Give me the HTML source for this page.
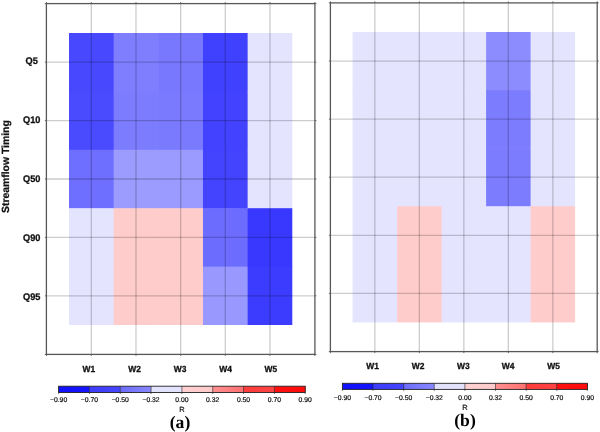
<!DOCTYPE html>
<html><head><meta charset="utf-8"><style>
html,body{margin:0;padding:0;background:#fff;width:600px;height:432px;overflow:hidden}
svg{display:block}
svg{will-change:transform}
text{text-rendering:geometricPrecision}
.g{stroke:#000;stroke-opacity:0.2;stroke-width:1.3}
.t{stroke:#585858;stroke-width:0.9}
.f{fill:none;stroke:#585858;stroke-width:1.3}
.xl{font-family:"Liberation Sans",sans-serif;font-weight:bold;font-size:9.6px;fill:#111;stroke:#111;stroke-width:0.3px}
.wl{font-family:"Liberation Sans",sans-serif;font-weight:bold;font-size:8.9px;fill:#111;stroke:#111;stroke-width:0.3px}
.yt{font-family:"Liberation Sans",sans-serif;font-weight:bold;font-size:10.4px;fill:#111;stroke:#111;stroke-width:0.25px}
.cb{font-family:"Liberation Sans",sans-serif;font-size:6.8px;fill:#111;stroke:#111;stroke-width:0.2px}
.cbl{stroke:#222;stroke-width:0.6}
.cbf{fill:none;stroke:#222;stroke-width:0.9}
.tag{font-family:"Liberation Serif",serif;font-weight:bold;font-size:17.6px;fill:#000}
.rl{font-family:"Liberation Sans",sans-serif;font-size:7.5px;fill:#111;stroke:#111;stroke-width:0.2px}
</style></head><body>
<svg width="600" height="432" viewBox="0 0 600 432">
<rect x="69.00" y="33.00" width="45.26" height="59.00" fill="#4848ff"/>
<rect x="69.00" y="91.40" width="45.26" height="59.00" fill="#4a4aff"/>
<rect x="69.00" y="149.80" width="45.26" height="59.00" fill="#6e6eff"/>
<rect x="69.00" y="208.20" width="45.26" height="59.00" fill="#e4e4ff"/>
<rect x="69.00" y="266.60" width="45.26" height="58.40" fill="#e4e4ff"/>
<rect x="113.66" y="33.00" width="45.26" height="59.00" fill="#7e7eff"/>
<rect x="113.66" y="91.40" width="45.26" height="59.00" fill="#7c7cff"/>
<rect x="113.66" y="149.80" width="45.26" height="59.00" fill="#9c9cff"/>
<rect x="113.66" y="208.20" width="45.26" height="59.00" fill="#ffcccc"/>
<rect x="113.66" y="266.60" width="45.26" height="58.40" fill="#ffcccc"/>
<rect x="158.32" y="33.00" width="45.26" height="59.00" fill="#7878ff"/>
<rect x="158.32" y="91.40" width="45.26" height="59.00" fill="#7a7aff"/>
<rect x="158.32" y="149.80" width="45.26" height="59.00" fill="#9a9aff"/>
<rect x="158.32" y="208.20" width="45.26" height="59.00" fill="#ffcccc"/>
<rect x="158.32" y="266.60" width="45.26" height="58.40" fill="#ffcccc"/>
<rect x="202.98" y="33.00" width="45.26" height="59.00" fill="#4040ff"/>
<rect x="202.98" y="91.40" width="45.26" height="59.00" fill="#4242ff"/>
<rect x="202.98" y="149.80" width="45.26" height="59.00" fill="#4444ff"/>
<rect x="202.98" y="208.20" width="45.26" height="59.00" fill="#6c6cff"/>
<rect x="202.98" y="266.60" width="45.26" height="58.40" fill="#9898ff"/>
<rect x="247.64" y="33.00" width="44.66" height="59.00" fill="#e4e4ff"/>
<rect x="247.64" y="91.40" width="44.66" height="59.00" fill="#e4e4ff"/>
<rect x="247.64" y="149.80" width="44.66" height="59.00" fill="#e4e4ff"/>
<rect x="247.64" y="208.20" width="44.66" height="59.00" fill="#3838ff"/>
<rect x="247.64" y="266.60" width="44.66" height="58.40" fill="#3c3cff"/>
<line x1="91.33" y1="3.60" x2="91.33" y2="354.40" class="g"/>
<line x1="135.99" y1="3.60" x2="135.99" y2="354.40" class="g"/>
<line x1="180.65" y1="3.60" x2="180.65" y2="354.40" class="g"/>
<line x1="225.31" y1="3.60" x2="225.31" y2="354.40" class="g"/>
<line x1="269.97" y1="3.60" x2="269.97" y2="354.40" class="g"/>
<line x1="46.40" y1="62.20" x2="314.90" y2="62.20" class="g"/>
<line x1="46.40" y1="120.60" x2="314.90" y2="120.60" class="g"/>
<line x1="46.40" y1="179.00" x2="314.90" y2="179.00" class="g"/>
<line x1="46.40" y1="237.40" x2="314.90" y2="237.40" class="g"/>
<line x1="46.40" y1="295.80" x2="314.90" y2="295.80" class="g"/>
<rect x="46.40" y="3.60" width="268.50" height="350.80" class="f"/>
<line x1="91.33" y1="354.40" x2="91.33" y2="355.90" class="t"/>
<line x1="91.33" y1="3.60" x2="91.33" y2="2.10" class="t"/>
<line x1="135.99" y1="354.40" x2="135.99" y2="355.90" class="t"/>
<line x1="135.99" y1="3.60" x2="135.99" y2="2.10" class="t"/>
<line x1="180.65" y1="354.40" x2="180.65" y2="355.90" class="t"/>
<line x1="180.65" y1="3.60" x2="180.65" y2="2.10" class="t"/>
<line x1="225.31" y1="354.40" x2="225.31" y2="355.90" class="t"/>
<line x1="225.31" y1="3.60" x2="225.31" y2="2.10" class="t"/>
<line x1="269.97" y1="354.40" x2="269.97" y2="355.90" class="t"/>
<line x1="269.97" y1="3.60" x2="269.97" y2="2.10" class="t"/>
<line x1="46.40" y1="62.20" x2="44.90" y2="62.20" class="t"/>
<line x1="314.90" y1="62.20" x2="316.40" y2="62.20" class="t"/>
<line x1="46.40" y1="120.60" x2="44.90" y2="120.60" class="t"/>
<line x1="314.90" y1="120.60" x2="316.40" y2="120.60" class="t"/>
<line x1="46.40" y1="179.00" x2="44.90" y2="179.00" class="t"/>
<line x1="314.90" y1="179.00" x2="316.40" y2="179.00" class="t"/>
<line x1="46.40" y1="237.40" x2="44.90" y2="237.40" class="t"/>
<line x1="314.90" y1="237.40" x2="316.40" y2="237.40" class="t"/>
<line x1="46.40" y1="295.80" x2="44.90" y2="295.80" class="t"/>
<line x1="314.90" y1="295.80" x2="316.40" y2="295.80" class="t"/>
<line x1="46.40" y1="3.60" x2="44.80" y2="3.60" class="t"/>
<line x1="46.40" y1="3.60" x2="46.40" y2="2.00" class="t"/>
<line x1="314.90" y1="3.60" x2="316.50" y2="3.60" class="t"/>
<line x1="314.90" y1="3.60" x2="314.90" y2="2.00" class="t"/>
<line x1="46.40" y1="354.40" x2="44.80" y2="354.40" class="t"/>
<line x1="46.40" y1="354.40" x2="46.40" y2="356.00" class="t"/>
<line x1="314.90" y1="354.40" x2="316.50" y2="354.40" class="t"/>
<line x1="314.90" y1="354.40" x2="314.90" y2="356.00" class="t"/>
<text transform="translate(88.80,371.60) scale(0.95,1)" class="wl" text-anchor="middle">W1</text>
<text transform="translate(134.50,371.60) scale(0.95,1)" class="wl" text-anchor="middle">W2</text>
<text transform="translate(180.00,371.60) scale(0.95,1)" class="wl" text-anchor="middle">W3</text>
<text transform="translate(225.50,371.60) scale(0.95,1)" class="wl" text-anchor="middle">W4</text>
<text transform="translate(270.75,371.60) scale(0.95,1)" class="wl" text-anchor="middle">W5</text>
<text transform="translate(31.70,64.30) scale(0.96,1)" class="xl" text-anchor="middle">Q5</text>
<text transform="translate(31.70,123.15) scale(0.96,1)" class="xl" text-anchor="middle">Q10</text>
<text transform="translate(31.70,181.90) scale(0.96,1)" class="xl" text-anchor="middle">Q50</text>
<text transform="translate(31.70,241.05) scale(0.96,1)" class="xl" text-anchor="middle">Q90</text>
<text transform="translate(31.70,299.75) scale(0.96,1)" class="xl" text-anchor="middle">Q95</text>
<rect x="352.60" y="32.00" width="45.10" height="58.68" fill="#e4e4ff"/>
<rect x="352.60" y="90.08" width="45.10" height="58.68" fill="#e4e4ff"/>
<rect x="352.60" y="148.16" width="45.10" height="58.68" fill="#e4e4ff"/>
<rect x="352.60" y="206.24" width="45.10" height="58.68" fill="#e4e4ff"/>
<rect x="352.60" y="264.32" width="45.10" height="58.08" fill="#e4e4ff"/>
<rect x="397.10" y="32.00" width="45.10" height="58.68" fill="#e4e4ff"/>
<rect x="397.10" y="90.08" width="45.10" height="58.68" fill="#e4e4ff"/>
<rect x="397.10" y="148.16" width="45.10" height="58.68" fill="#e4e4ff"/>
<rect x="397.10" y="206.24" width="45.10" height="58.68" fill="#ffcccc"/>
<rect x="397.10" y="264.32" width="45.10" height="58.08" fill="#ffcccc"/>
<rect x="441.60" y="32.00" width="45.10" height="58.68" fill="#e4e4ff"/>
<rect x="441.60" y="90.08" width="45.10" height="58.68" fill="#e4e4ff"/>
<rect x="441.60" y="148.16" width="45.10" height="58.68" fill="#e4e4ff"/>
<rect x="441.60" y="206.24" width="45.10" height="58.68" fill="#e4e4ff"/>
<rect x="441.60" y="264.32" width="45.10" height="58.08" fill="#e4e4ff"/>
<rect x="486.10" y="32.00" width="45.10" height="58.68" fill="#8c8cff"/>
<rect x="486.10" y="90.08" width="45.10" height="58.68" fill="#7c7cff"/>
<rect x="486.10" y="148.16" width="45.10" height="58.68" fill="#7c7cff"/>
<rect x="486.10" y="206.24" width="45.10" height="58.68" fill="#e4e4ff"/>
<rect x="486.10" y="264.32" width="45.10" height="58.08" fill="#e4e4ff"/>
<rect x="530.60" y="32.00" width="44.50" height="58.68" fill="#e4e4ff"/>
<rect x="530.60" y="90.08" width="44.50" height="58.68" fill="#e4e4ff"/>
<rect x="530.60" y="148.16" width="44.50" height="58.68" fill="#e4e4ff"/>
<rect x="530.60" y="206.24" width="44.50" height="58.68" fill="#ffcccc"/>
<rect x="530.60" y="264.32" width="44.50" height="58.08" fill="#ffcccc"/>
<line x1="374.85" y1="2.90" x2="374.85" y2="351.60" class="g"/>
<line x1="419.35" y1="2.90" x2="419.35" y2="351.60" class="g"/>
<line x1="463.85" y1="2.90" x2="463.85" y2="351.60" class="g"/>
<line x1="508.35" y1="2.90" x2="508.35" y2="351.60" class="g"/>
<line x1="552.85" y1="2.90" x2="552.85" y2="351.60" class="g"/>
<line x1="330.40" y1="61.04" x2="597.20" y2="61.04" class="g"/>
<line x1="330.40" y1="119.12" x2="597.20" y2="119.12" class="g"/>
<line x1="330.40" y1="177.20" x2="597.20" y2="177.20" class="g"/>
<line x1="330.40" y1="235.28" x2="597.20" y2="235.28" class="g"/>
<line x1="330.40" y1="293.36" x2="597.20" y2="293.36" class="g"/>
<rect x="330.40" y="2.90" width="266.80" height="348.70" class="f"/>
<line x1="374.85" y1="351.60" x2="374.85" y2="353.10" class="t"/>
<line x1="374.85" y1="2.90" x2="374.85" y2="1.40" class="t"/>
<line x1="419.35" y1="351.60" x2="419.35" y2="353.10" class="t"/>
<line x1="419.35" y1="2.90" x2="419.35" y2="1.40" class="t"/>
<line x1="463.85" y1="351.60" x2="463.85" y2="353.10" class="t"/>
<line x1="463.85" y1="2.90" x2="463.85" y2="1.40" class="t"/>
<line x1="508.35" y1="351.60" x2="508.35" y2="353.10" class="t"/>
<line x1="508.35" y1="2.90" x2="508.35" y2="1.40" class="t"/>
<line x1="552.85" y1="351.60" x2="552.85" y2="353.10" class="t"/>
<line x1="552.85" y1="2.90" x2="552.85" y2="1.40" class="t"/>
<line x1="330.40" y1="61.04" x2="328.90" y2="61.04" class="t"/>
<line x1="597.20" y1="61.04" x2="598.70" y2="61.04" class="t"/>
<line x1="330.40" y1="119.12" x2="328.90" y2="119.12" class="t"/>
<line x1="597.20" y1="119.12" x2="598.70" y2="119.12" class="t"/>
<line x1="330.40" y1="177.20" x2="328.90" y2="177.20" class="t"/>
<line x1="597.20" y1="177.20" x2="598.70" y2="177.20" class="t"/>
<line x1="330.40" y1="235.28" x2="328.90" y2="235.28" class="t"/>
<line x1="597.20" y1="235.28" x2="598.70" y2="235.28" class="t"/>
<line x1="330.40" y1="293.36" x2="328.90" y2="293.36" class="t"/>
<line x1="597.20" y1="293.36" x2="598.70" y2="293.36" class="t"/>
<line x1="330.40" y1="2.90" x2="328.80" y2="2.90" class="t"/>
<line x1="330.40" y1="2.90" x2="330.40" y2="1.30" class="t"/>
<line x1="597.20" y1="2.90" x2="598.80" y2="2.90" class="t"/>
<line x1="597.20" y1="2.90" x2="597.20" y2="1.30" class="t"/>
<line x1="330.40" y1="351.60" x2="328.80" y2="351.60" class="t"/>
<line x1="330.40" y1="351.60" x2="330.40" y2="353.20" class="t"/>
<line x1="597.20" y1="351.60" x2="598.80" y2="351.60" class="t"/>
<line x1="597.20" y1="351.60" x2="597.20" y2="353.20" class="t"/>
<text transform="translate(372.50,368.70) scale(0.95,1)" class="wl" text-anchor="middle">W1</text>
<text transform="translate(418.10,368.70) scale(0.95,1)" class="wl" text-anchor="middle">W2</text>
<text transform="translate(463.30,368.70) scale(0.95,1)" class="wl" text-anchor="middle">W3</text>
<text transform="translate(508.10,368.70) scale(0.95,1)" class="wl" text-anchor="middle">W4</text>
<text transform="translate(553.50,368.70) scale(0.95,1)" class="wl" text-anchor="middle">W5</text>
<text transform="translate(8.8,166.6) rotate(-90)" class="yt" text-anchor="middle">Streamflow Timing</text>
<linearGradient id="ga0"><stop offset="0" stop-color="#1010fa"/><stop offset="1" stop-color="#1414ff"/></linearGradient>
<rect x="58.60" y="386.20" width="31.12" height="6.30" fill="url(#ga0)"/>
<linearGradient id="ga1"><stop offset="0" stop-color="#3c3cfa"/><stop offset="1" stop-color="#4646ff"/></linearGradient>
<rect x="89.42" y="386.20" width="31.12" height="6.30" fill="url(#ga1)"/>
<linearGradient id="ga2"><stop offset="0" stop-color="#6c6cfa"/><stop offset="1" stop-color="#8888ff"/></linearGradient>
<rect x="120.25" y="386.20" width="31.12" height="6.30" fill="url(#ga2)"/>
<linearGradient id="ga3"><stop offset="0" stop-color="#e2e2fc"/><stop offset="1" stop-color="#e2e2fc"/></linearGradient>
<rect x="151.07" y="386.20" width="31.12" height="6.30" fill="url(#ga3)"/>
<linearGradient id="ga4"><stop offset="0" stop-color="#ffd0d0"/><stop offset="1" stop-color="#ffcaca"/></linearGradient>
<rect x="181.90" y="386.20" width="31.12" height="6.30" fill="url(#ga4)"/>
<linearGradient id="ga5"><stop offset="0" stop-color="#ff9090"/><stop offset="1" stop-color="#ff7070"/></linearGradient>
<rect x="212.72" y="386.20" width="31.12" height="6.30" fill="url(#ga5)"/>
<linearGradient id="ga6"><stop offset="0" stop-color="#ff3c3c"/><stop offset="1" stop-color="#ff4444"/></linearGradient>
<rect x="243.55" y="386.20" width="31.12" height="6.30" fill="url(#ga6)"/>
<linearGradient id="ga7"><stop offset="0" stop-color="#ff1010"/><stop offset="1" stop-color="#ff0c0c"/></linearGradient>
<rect x="274.38" y="386.20" width="31.12" height="6.30" fill="url(#ga7)"/>
<line x1="89.42" y1="386.20" x2="89.42" y2="392.50" class="cbl"/>
<line x1="120.25" y1="386.20" x2="120.25" y2="392.50" class="cbl"/>
<line x1="151.07" y1="386.20" x2="151.07" y2="392.50" class="cbl"/>
<line x1="181.90" y1="386.20" x2="181.90" y2="392.50" class="cbl"/>
<line x1="212.72" y1="386.20" x2="212.72" y2="392.50" class="cbl"/>
<line x1="243.55" y1="386.20" x2="243.55" y2="392.50" class="cbl"/>
<line x1="274.38" y1="386.20" x2="274.38" y2="392.50" class="cbl"/>
<rect x="58.60" y="386.20" width="246.60" height="6.30" class="cbf"/>
<line x1="58.60" y1="392.50" x2="58.60" y2="394.00" class="cbl"/>
<text x="58.60" y="402.40" class="cb" text-anchor="middle">&#8722;0.90</text>
<line x1="89.42" y1="392.50" x2="89.42" y2="394.00" class="cbl"/>
<text x="89.42" y="402.40" class="cb" text-anchor="middle">&#8722;0.70</text>
<line x1="120.25" y1="392.50" x2="120.25" y2="394.00" class="cbl"/>
<text x="120.25" y="402.40" class="cb" text-anchor="middle">&#8722;0.50</text>
<line x1="151.07" y1="392.50" x2="151.07" y2="394.00" class="cbl"/>
<text x="151.07" y="402.40" class="cb" text-anchor="middle">&#8722;0.32</text>
<line x1="181.90" y1="392.50" x2="181.90" y2="394.00" class="cbl"/>
<text x="181.90" y="402.40" class="cb" text-anchor="middle">0.00</text>
<line x1="212.72" y1="392.50" x2="212.72" y2="394.00" class="cbl"/>
<text x="212.72" y="402.40" class="cb" text-anchor="middle">0.32</text>
<line x1="243.55" y1="392.50" x2="243.55" y2="394.00" class="cbl"/>
<text x="243.55" y="402.40" class="cb" text-anchor="middle">0.50</text>
<line x1="274.38" y1="392.50" x2="274.38" y2="394.00" class="cbl"/>
<text x="274.38" y="402.40" class="cb" text-anchor="middle">0.70</text>
<line x1="305.20" y1="392.50" x2="305.20" y2="394.00" class="cbl"/>
<text x="305.20" y="402.40" class="cb" text-anchor="middle">0.90</text>
<text x="181.90" y="412.40" class="rl" text-anchor="middle">R</text>
<text x="180.00" y="428.30" class="tag" text-anchor="middle">(a)</text>
<linearGradient id="gb0"><stop offset="0" stop-color="#1010fa"/><stop offset="1" stop-color="#1414ff"/></linearGradient>
<rect x="342.40" y="383.30" width="30.93" height="6.10" fill="url(#gb0)"/>
<linearGradient id="gb1"><stop offset="0" stop-color="#3c3cfa"/><stop offset="1" stop-color="#4646ff"/></linearGradient>
<rect x="373.02" y="383.30" width="30.93" height="6.10" fill="url(#gb1)"/>
<linearGradient id="gb2"><stop offset="0" stop-color="#6c6cfa"/><stop offset="1" stop-color="#8888ff"/></linearGradient>
<rect x="403.65" y="383.30" width="30.93" height="6.10" fill="url(#gb2)"/>
<linearGradient id="gb3"><stop offset="0" stop-color="#e2e2fc"/><stop offset="1" stop-color="#e2e2fc"/></linearGradient>
<rect x="434.27" y="383.30" width="30.93" height="6.10" fill="url(#gb3)"/>
<linearGradient id="gb4"><stop offset="0" stop-color="#ffd0d0"/><stop offset="1" stop-color="#ffcaca"/></linearGradient>
<rect x="464.90" y="383.30" width="30.93" height="6.10" fill="url(#gb4)"/>
<linearGradient id="gb5"><stop offset="0" stop-color="#ff9090"/><stop offset="1" stop-color="#ff7070"/></linearGradient>
<rect x="495.52" y="383.30" width="30.93" height="6.10" fill="url(#gb5)"/>
<linearGradient id="gb6"><stop offset="0" stop-color="#ff3c3c"/><stop offset="1" stop-color="#ff4444"/></linearGradient>
<rect x="526.15" y="383.30" width="30.93" height="6.10" fill="url(#gb6)"/>
<linearGradient id="gb7"><stop offset="0" stop-color="#ff1010"/><stop offset="1" stop-color="#ff0c0c"/></linearGradient>
<rect x="556.77" y="383.30" width="30.93" height="6.10" fill="url(#gb7)"/>
<line x1="373.02" y1="383.30" x2="373.02" y2="389.40" class="cbl"/>
<line x1="403.65" y1="383.30" x2="403.65" y2="389.40" class="cbl"/>
<line x1="434.27" y1="383.30" x2="434.27" y2="389.40" class="cbl"/>
<line x1="464.90" y1="383.30" x2="464.90" y2="389.40" class="cbl"/>
<line x1="495.52" y1="383.30" x2="495.52" y2="389.40" class="cbl"/>
<line x1="526.15" y1="383.30" x2="526.15" y2="389.40" class="cbl"/>
<line x1="556.77" y1="383.30" x2="556.77" y2="389.40" class="cbl"/>
<rect x="342.40" y="383.30" width="245.00" height="6.10" class="cbf"/>
<line x1="342.40" y1="389.40" x2="342.40" y2="390.90" class="cbl"/>
<text x="342.40" y="399.60" class="cb" text-anchor="middle">&#8722;0.90</text>
<line x1="373.02" y1="389.40" x2="373.02" y2="390.90" class="cbl"/>
<text x="373.02" y="399.60" class="cb" text-anchor="middle">&#8722;0.70</text>
<line x1="403.65" y1="389.40" x2="403.65" y2="390.90" class="cbl"/>
<text x="403.65" y="399.60" class="cb" text-anchor="middle">&#8722;0.50</text>
<line x1="434.27" y1="389.40" x2="434.27" y2="390.90" class="cbl"/>
<text x="434.27" y="399.60" class="cb" text-anchor="middle">&#8722;0.32</text>
<line x1="464.90" y1="389.40" x2="464.90" y2="390.90" class="cbl"/>
<text x="464.90" y="399.60" class="cb" text-anchor="middle">0.00</text>
<line x1="495.52" y1="389.40" x2="495.52" y2="390.90" class="cbl"/>
<text x="495.52" y="399.60" class="cb" text-anchor="middle">0.32</text>
<line x1="526.15" y1="389.40" x2="526.15" y2="390.90" class="cbl"/>
<text x="526.15" y="399.60" class="cb" text-anchor="middle">0.50</text>
<line x1="556.77" y1="389.40" x2="556.77" y2="390.90" class="cbl"/>
<text x="556.77" y="399.60" class="cb" text-anchor="middle">0.70</text>
<line x1="587.40" y1="389.40" x2="587.40" y2="390.90" class="cbl"/>
<text x="587.40" y="399.60" class="cb" text-anchor="middle">0.90</text>
<text x="464.90" y="409.50" class="rl" text-anchor="middle">R</text>
<text x="465.00" y="425.80" class="tag" text-anchor="middle">(b)</text>
</svg>
</body></html>
